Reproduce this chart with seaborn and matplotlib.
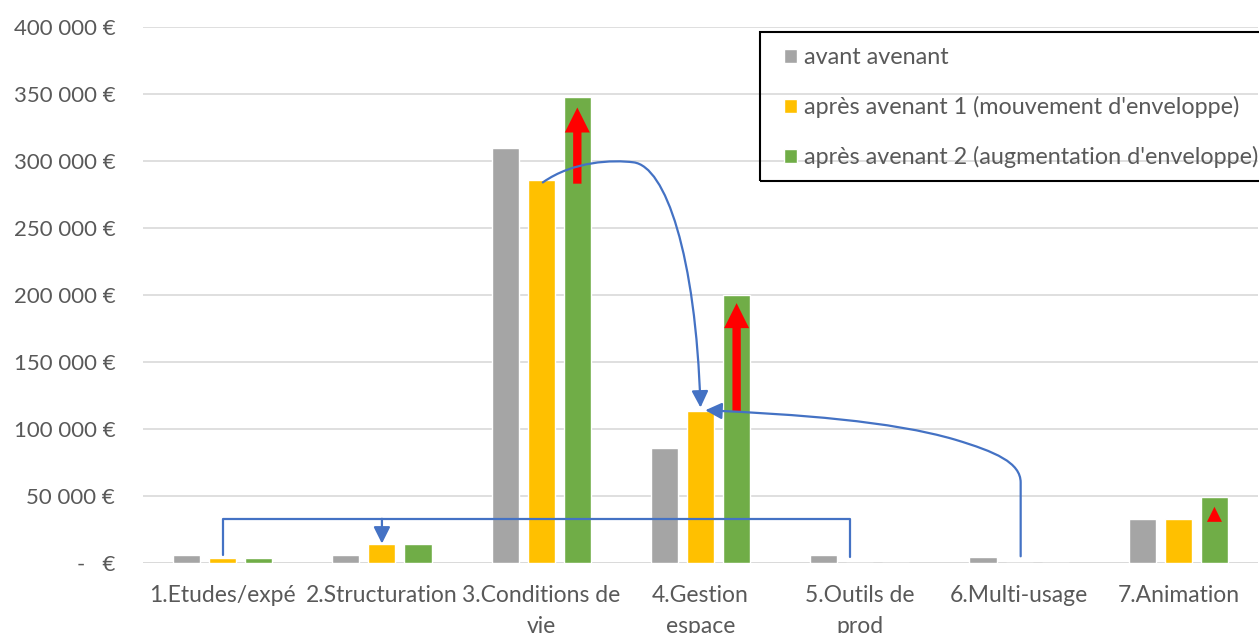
import pandas as pd
import matplotlib.pyplot as plt
import seaborn as sns
from matplotlib.path import Path
from matplotlib.patches import FancyArrowPatch, Rectangle
from matplotlib.ticker import FuncFormatter

sns.set_theme(style="white")
plt.rcParams['font.family'] = ['Lato', 'DejaVu Sans']

# Données (montants en euros par volet)
categories = ["1.Etudes/expé", "2.Structuration", "3.Conditions de\nvie", "4.Gestion\nespace",
              "5.Outils de\nprod", "6.Multi-usage", "7.Animation"]
series = ["avant avenant",
          "après avenant 1 (mouvement d'enveloppe)",
          "après avenant 2 (augmentation d'enveloppe)"]
avant = [6000, 6000, 310000, 86000, 6000, 4500, 33000]
apres_1 = [4000, 14000, 286000, 113500, 0, 0, 33000]
apres_2 = [4000, 14000, 348000, 200000, 0, 0, 49000]
colors = ["#A5A5A5", "#FFC000", "#70AD47"]

df = pd.DataFrame({
    "cat": categories * 3,
    "serie": [series[0]] * 7 + [series[1]] * 7 + [series[2]] * 7,
    "montant": avant + apres_1 + apres_2,
})

fig = plt.figure(figsize=(12.59, 6.33), dpi=100)
ax = fig.add_axes([143 / 1259, 70 / 633, 1115 / 1259, 536 / 633])

sns.barplot(data=df, x="cat", y="montant", hue="serie", palette=colors, saturation=1,
            width=0.68, gap=0.25, ax=ax, legend=True)

ax.set_ylim(0, 400000)
ax.set_xlim(-0.5, 6.5)
ax.set_yticks(range(0, 400001, 50000))
ax.yaxis.set_major_formatter(FuncFormatter(
    lambda v, p: "-   €" if v == 0 else f"{int(v):,} €".replace(",", " ")))
ax.yaxis.grid(True, color="#D9D9D9", linewidth=1.2)
ax.set_axisbelow(True)
for s in ax.spines.values():
    s.set_visible(False)
ax.axhline(0, color="#D9D9D9", linewidth=1.2, zorder=0.5)
ax.tick_params(axis="y", length=0, pad=20, labelsize=16, labelcolor="#595959")
ax.tick_params(axis="x", length=0, pad=16, labelsize=16.5, labelcolor="#595959")
for t in ax.get_xticklabels():
    t.set_linespacing(1.6)
ax.set_xlabel("")
ax.set_ylabel("")

# Flèches rouges (augmentation d'enveloppe)
step = 0.68 / 3
red_arrows = [(2, 281000, 342000, 10), (3, 111000, 196000, 10), (6, 30000, 44000, 6)]
for i, y0, y1, ms in red_arrows:
    ax.add_patch(FancyArrowPatch((i + step, y0), (i + step, y1),
                                 arrowstyle="simple,head_width=1.8,head_length=1.8,tail_width=0.6",
                                 mutation_scale=ms, color="#FF0000", lw=0, zorder=5))

blue = "#4472C4"
head = "-|>,head_length=0.5,head_width=0.25"
# 3 -> 4
p1 = Path([(2.01, 284000), (2.2, 300000), (2.45, 301000), (2.58, 299000),
           (2.78, 296000), (2.97, 230000), (3.0, 116000)],
          [Path.MOVETO, Path.CURVE4, Path.CURVE4, Path.CURVE4,
           Path.CURVE4, Path.CURVE4, Path.CURVE4])
# 6 -> 4
p2 = Path([(5.01, 5000), (5.01, 60000), (5.01, 75000), (4.85, 83000), (4.6, 92000),
           (4.2, 106000), (3.6, 111000), (3.03, 114000)],
          [Path.MOVETO, Path.LINETO, Path.CURVE4, Path.CURVE4, Path.CURVE4,
           Path.CURVE4, Path.CURVE4, Path.CURVE4])
# 1 et 5 -> 2
p3 = Path([(0.0, 6000), (0.0, 33000), (3.94, 33000), (3.94, 4500)],
          [Path.MOVETO, Path.LINETO, Path.LINETO, Path.LINETO])
for p, style in [(p1, head), (p2, head), (p3, "-")]:
    ax.add_patch(FancyArrowPatch(path=p, arrowstyle=style, mutation_scale=20,
                                 color=blue, lw=1.6, zorder=6))
ax.add_patch(FancyArrowPatch((1.0, 33000), (1.0, 14500), arrowstyle=head,
                             mutation_scale=20, color=blue, lw=1.6, zorder=6, shrinkA=0, shrinkB=0))

# Légende : cadre noir dessiné à part (coupé à droite comme dans l'original)
leg = ax.legend(loc="upper left", bbox_to_anchor=(784 / 1259, 586 / 633),
                bbox_transform=fig.transFigure, frameon=False, fontsize=16.8,
                labelspacing=1.2, handlelength=0.55, handleheight=0.55,
                handletextpad=0.3, borderpad=0, borderaxespad=0)
for t in leg.get_texts():
    t.set_color("#595959")
fig.patches.append(Rectangle((760 / 1259, (633 - 181) / 633), 520 / 1259, 149 / 633,
                             transform=fig.transFigure, fill=False, edgecolor="black",
                             linewidth=1.5, zorder=10))

plt.savefig("out.png", dpi=100)
plt.close()
